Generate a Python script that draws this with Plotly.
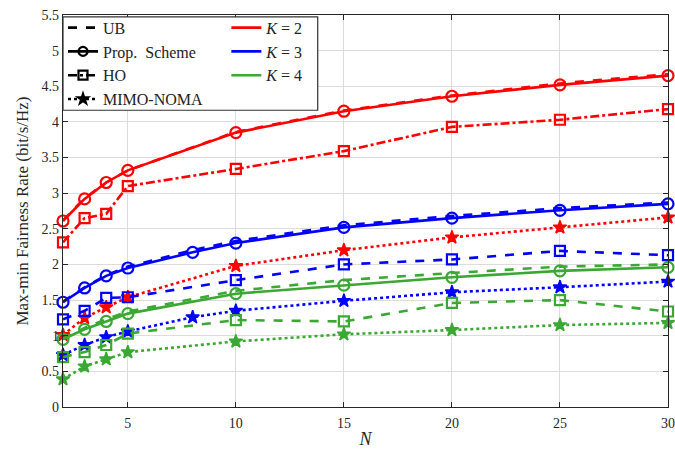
import plotly.graph_objects as go

N_base = [2, 3, 4, 5, 10, 15, 20, 25, 30]
N_k3 = [2, 3, 4, 5, 8, 10, 15, 20, 25, 30]

# K = 2
ub_k2 = [2.62, 2.93, 3.15, 3.32, 3.86, 4.16, 4.37, 4.54, 4.67]
prop_k2 = [2.61, 2.92, 3.15, 3.32, 3.85, 4.15, 4.36, 4.52, 4.65]
ho_k2 = [2.31, 2.65, 2.71, 3.10, 3.34, 3.59, 3.93, 4.03, 4.18]
mimo_k2 = [1.01, 1.25, 1.40, 1.54, 1.98, 2.20, 2.38, 2.52, 2.66]

# K = 3
ub_k3 = [1.48, 1.68, 1.85, 1.97, 2.20, 2.33, 2.55, 2.68, 2.79, 2.87]
prop_k3 = [1.47, 1.67, 1.84, 1.95, 2.17, 2.30, 2.52, 2.65, 2.76, 2.85]
ho_k3 = [1.23, 1.35, 1.53, 1.54, 1.78, 2.00, 2.07, 2.19, 2.13]
mimo_k3 = [0.73, 0.87, 0.98, 1.06, 1.26, 1.35, 1.49, 1.61, 1.68, 1.76]

# K = 4
ub_k4 = [0.96, 1.11, 1.23, 1.34, 1.63, 1.78, 1.88, 1.97, 2.00]
prop_k4 = [0.95, 1.09, 1.20, 1.31, 1.59, 1.71, 1.82, 1.91, 1.96]
ho_k4 = [0.70, 0.77, 0.87, 1.03, 1.22, 1.20, 1.46, 1.50, 1.34]
mimo_k4 = [0.39, 0.57, 0.67, 0.77, 0.92, 1.02, 1.08, 1.15, 1.18]

RED, BLUE, GREEN = "#ff0000", "#0000ff", "#3aa832"
FONT = "Liberation Serif"
LW = 2.6

fig = go.Figure()

def add(x, y, color, dash, symbol=None, size=10):
    mode = "lines+markers" if symbol else "lines"
    marker = None
    if symbol:
        marker = dict(symbol=symbol, size=size, color=color,
                      line=dict(color=color, width=2.2 if "open" in symbol else 1.5))
    fig.add_trace(go.Scatter(x=x, y=y, mode=mode, showlegend=False,
                             cliponaxis=False,
                             line=dict(color=color, width=LW, dash=dash),
                             marker=marker, hoverinfo="skip"))

groups = [
    (RED, N_base, N_base, ub_k2, prop_k2, ho_k2, mimo_k2, "dashdot"),
    (BLUE, N_k3, N_base, ub_k3, prop_k3, ho_k3, mimo_k3, "dash"),
    (GREEN, N_base, N_base, ub_k4, prop_k4, ho_k4, mimo_k4, "dash"),
]
for color, nx, nho, ub, prop, ho, mimo, hodash in groups:
    add(nx, ub, color, "dash")
    add(nx, mimo, color, "dot", "star", 10)
    add(nho, ho, color, hodash, "square-open", 10)
    add(nx, prop, color, "solid", "circle-open", 11)

# legend entries (line styles)
leg1 = [
    ("UB", "dash", None),
    ("Prop.  Scheme", "solid", "circle-open"),
    ("HO", "dashdot", "square-open"),
    ("MIMO-NOMA", "dot", "star"),
]
for name, dash, sym in leg1:
    fig.add_trace(go.Scatter(
        x=[None], y=[None], name=name, legend="legend",
        mode="lines+markers" if sym else "lines",
        line=dict(color="black", width=LW, dash=dash),
        marker=dict(symbol=sym or "circle", size=9, color="black",
                    line=dict(color="black", width=2.2 if sym and "open" in sym else 1.5)) if sym else None))

for name, color in [("<i>K</i> = 2", RED), ("<i>K</i> = 3", BLUE), ("<i>K</i> = 4", GREEN)]:
    fig.add_trace(go.Scatter(x=[None], y=[None], name=name, legend="legend2",
                             mode="lines", line=dict(color=color, width=LW)))

leg_font = dict(family=FONT, size=16, color="#222")
fig.update_layout(
    width=675, height=449,
    margin=dict(l=63, r=7, t=15, b=42, autoexpand=False),
    paper_bgcolor="white", plot_bgcolor="white",
    font=dict(family=FONT, size=14, color="#262626"),
    legend=dict(x=0.0, y=1.011, xanchor="left", yanchor="top",
                bgcolor="rgba(0,0,0,0)", font=leg_font,
                tracegroupgap=0, itemwidth=30),
    legend2=dict(x=0.27, y=1.011, xanchor="left", yanchor="top",
                 bgcolor="rgba(0,0,0,0)", font=leg_font,
                 tracegroupgap=0, itemwidth=30),
    shapes=[dict(type="rect", xref="paper", yref="paper",
                 x0=0.0, x1=0.421, y0=0.757, y1=0.995,
                 line=dict(color="#333", width=1.2),
                 fillcolor="white", layer="above")],
)
fig.update_xaxes(range=[2, 30], tickvals=[5, 10, 15, 20, 25, 30],
                 automargin=False, ticklabelstandoff=3,
                 showgrid=True, gridcolor="#dcdcdc", gridwidth=1,
                 showline=True, linecolor="#262626", linewidth=1.2, mirror="ticks",
                 ticks="inside", ticklen=5, tickcolor="#262626",
                 zeroline=False,
                 title=dict(text="<i>N</i>", font=dict(family=FONT, size=18), standoff=4))
fig.update_yaxes(range=[0, 5.5],
                 tickvals=[0, 0.5, 1, 1.5, 2, 2.5, 3, 3.5, 4, 4.5, 5, 5.5],
                 ticktext=["0", "0.5", "1", "1.5", "2", "2.5", "3", "3.5", "4", "4.5", "5", "5.5"],
                 automargin=False,
                 showgrid=True, gridcolor="#dcdcdc", gridwidth=1,
                 showline=True, linecolor="#262626", linewidth=1.2, mirror="ticks",
                 ticks="inside", ticklen=5, tickcolor="#262626",
                 zeroline=False,
                 title=dict(text="Max-min Fairness Rate (bit/s/Hz)",
                            font=dict(family=FONT, size=17), standoff=8))

fig.write_html("out.html")
